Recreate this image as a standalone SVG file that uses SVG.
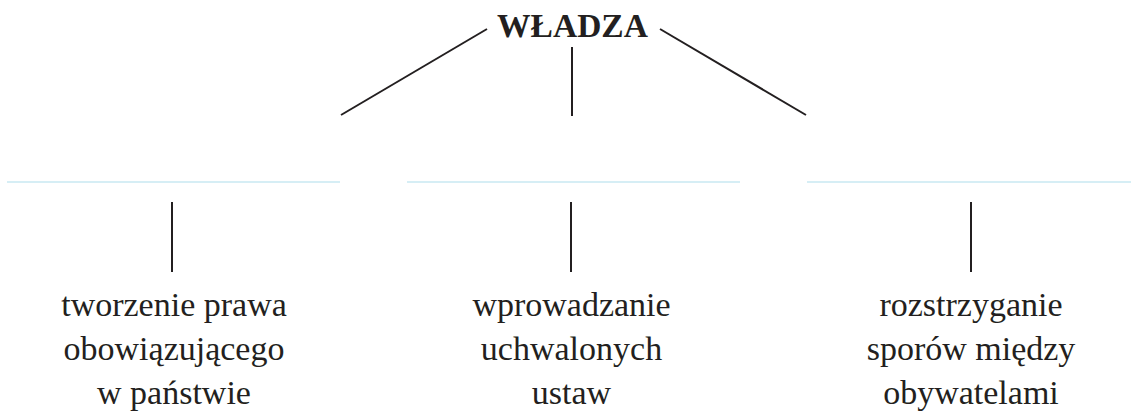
<svg xmlns="http://www.w3.org/2000/svg" width="1131" height="415" viewBox="0 0 1131 415">
<style>
.t{font-family:"Liberation Serif","DejaVu Serif",serif;fill:#231f20;text-anchor:middle;}
.lbl{font-size:34px;}
.title{font-size:33.5px;font-weight:bold;}
.ln{stroke:#231f20;stroke-width:2;fill:none;}
.bl{stroke:#d6eef5;stroke-width:2;fill:none;}
</style>
<rect width="1131" height="415" fill="#ffffff"/>
<g id="root"><text class="t title" x="572.5" y="37">WŁADZA</text></g>
<g id="connectors">
<line class="ln" x1="487" y1="29" x2="341" y2="115"/>
<line class="ln" x1="572" y1="47" x2="572" y2="116"/>
<line class="ln" x1="660" y1="29" x2="806" y2="115"/>
<line class="ln" x1="172" y1="202" x2="172" y2="272"/>
<line class="ln" x1="571" y1="202" x2="571" y2="272"/>
<line class="ln" x1="971" y1="202" x2="971" y2="272"/>
</g>
<g id="separators">
<line class="bl" x1="7" y1="182" x2="340" y2="182"/>
<line class="bl" x1="407" y1="182" x2="740" y2="182"/>
<line class="bl" x1="807" y1="182" x2="1131" y2="182"/>
</g>
<g id="node-left"><text class="t lbl" x="174" y="316"><tspan x="174">tworzenie prawa</tspan><tspan x="174" y="360">obowiązującego</tspan><tspan x="174" y="404">w państwie</tspan></text></g>
<g id="node-middle"><text class="t lbl" x="571.5" y="316"><tspan x="571.5">wprowadzanie</tspan><tspan x="571.5" y="360">uchwalonych</tspan><tspan x="571.5" y="404">ustaw</tspan></text></g>
<g id="node-right"><text class="t lbl" x="971" y="316"><tspan x="971">rozstrzyganie</tspan><tspan x="971" y="360">sporów między</tspan><tspan x="971" y="404">obywatelami</tspan></text></g>
</svg>
